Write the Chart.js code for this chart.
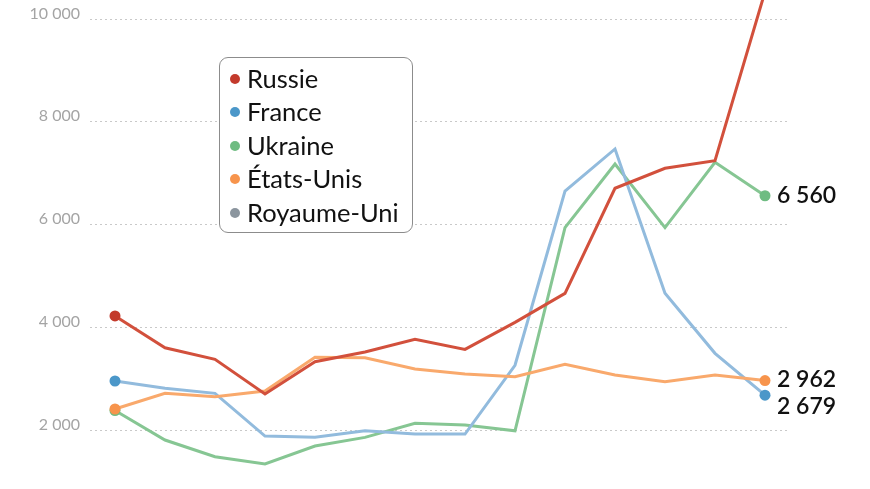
<!DOCTYPE html>
<html>
<head>
<meta charset="utf-8">
<script src="https://cdn.jsdelivr.net/npm/chart.js@4.4.1/dist/chart.umd.min.js"></script>
<style>
  html, body { margin: 0; padding: 0; background: #fff; }
  #wrap { position: relative; width: 870px; height: 489px; overflow: hidden; }
  #legend {
    position: absolute; left: 219px; top: 57px; width: 194px; height: 176px;
    border: 1px solid #8c8c8c; border-radius: 9px; background: #fff;
    font-family: Lato, sans-serif; font-size: 25.5px; color: #111;
    padding-top: 4px; box-sizing: border-box;
  }
  #legend .row { position: relative; height: 33.4px; line-height: 33.4px; padding-left: 27px; white-space: nowrap; }
  #legend .dot { position: absolute; left: 10px; top: 12px; width: 10px; height: 10px; border-radius: 50%; }
</style>
</head>
<body>
<div id="wrap">
  <canvas id="chart" width="870" height="489"></canvas>
  <div id="legend"></div>
</div>
<script>
    "use strict";

    // Data
    var periods = ["1", "2", "3", "4", "5", "6", "7", "8", "9", "10", "11", "12", "13", "14"];
    var russie   = [4220, 3600, 3375, 2700, 3330, 3520, 3765, 3570, 4096, 4660, 6705, 7095, 7243, 10530];
    var france   = [2954, 2811, 2714, 1883, 1860, 1987, 1922, 1922, 3260, 6652, 7471, 4661, 3493, 2679];
    var ukraine  = [2380, 1805, 1480, 1338, 1689, 1857, 2130, 2097, 1985, 5939, 7178, 5939, 7211, 6560];
    var etatsUnis = [2409, 2714, 2648, 2760, 3415, 3405, 3187, 3090, 3038, 3279, 3071, 2941, 3071, 2962];
    var royaumeUni = [];
    var yTicks = [2000, 4000, 6000, 8000, 10000];

    var names = ["Russie", "France", "Ukraine", "États-Unis", "Royaume-Uni"];
    var lineColors = ["#d2503c", "#92bbdd", "#86c693", "#f9a96c", "#8b959e"];
    var dotColors = ["#c33a2c", "#4b97c9", "#6fbc82", "#f7944c", "#8b959e"];
    var series = [russie, france, ukraine, etatsUnis, royaumeUni];
    var drawOrder = [0, 2, 3, 1, 4];
    var endOffsets = [0, 11, 0, -1.5, 0];

    function fmt(v) {
        return String(v).replace(/\B(?=(\d{3})+(?!\d))/g, " ");
    }

    // Legend
    var legend = document.getElementById("legend");
    names.forEach(function (n, i) {
        var row = document.createElement("div");
        row.className = "row";
        row.innerHTML = '<span class="dot" style="background:' + dotColors[i] + '"></span>' + n;
        legend.appendChild(row);
    });

    // Y labels sit a little above the dotted lines
    var yLabels = {
        id: "yLabels",
        afterDraw: function (chart) {
            var c = chart.ctx, y = chart.scales.y;
            c.save();
            c.font = "16px Lato, sans-serif";
            c.fillStyle = "#a4a4a4";
            c.textAlign = "right";
            c.textBaseline = "middle";
            yTicks.forEach(function (t) {
                c.fillText(fmt(t), 80, y.getPixelForValue(t) - 5.5);
            });
            c.restore();
        }
    };

    // Value labels at the end of the lines
    var endLabels = {
        id: "endLabels",
        afterDatasetsDraw: function (chart) {
            var c = chart.ctx, area = chart.chartArea;
            c.save();
            c.font = "600 23px Lato, sans-serif";
            c.fillStyle = "#111";
            c.textAlign = "left";
            c.textBaseline = "middle";
            chart.data.datasets.forEach(function (ds, i) {
                var pts = chart.getDatasetMeta(i).data;
                if (!pts.length) return;
                var p = pts[pts.length - 1];
                if (p.y < area.top) return;
                c.fillText(fmt(ds.data[ds.data.length - 1]), p.x + 12, p.y + endOffsets[i]);
            });
            c.restore();
        }
    };

    var ctx = document.getElementById("chart").getContext("2d");
    var myChart = new Chart(ctx, {
        type: "line",
        data: {
            labels: periods,
            datasets: series.map(function (d, i) {
                return {
                    label: names[i],
                    data: d,
                    order: drawOrder[i],
                    clip: 12,
                    borderColor: lineColors[i],
                    borderWidth: 3,
                    tension: 0,
                    pointBackgroundColor: dotColors[i],
                    pointBorderWidth: 0,
                    pointRadius: function (c) {
                        return (c.dataIndex === 0 || c.dataIndex === d.length - 1) ? 5.5 : 0;
                    }
                };
            })
        },
        options: {
            responsive: false,
            animation: false,
            devicePixelRatio: 1,
            layout: { padding: { left: 90, right: 80, top: 0, bottom: 0 } },
            plugins: { legend: { display: false }, tooltip: { enabled: false } },
            scales: {
                x: { display: false, offset: true },
                y: {
                    min: 959,
                    max: 10263,
                    afterBuildTicks: function (s) {
                        s.ticks = yTicks.map(function (v) { return { value: v }; });
                    },
                    ticks: { display: false },
                    grid: { color: "#c9c9c9", lineWidth: 1, drawTicks: false },
                    border: { display: false, dash: [2, 3] }
                }
            }
        },
        plugins: [yLabels, endLabels]
    });
</script>
</body>
</html>
